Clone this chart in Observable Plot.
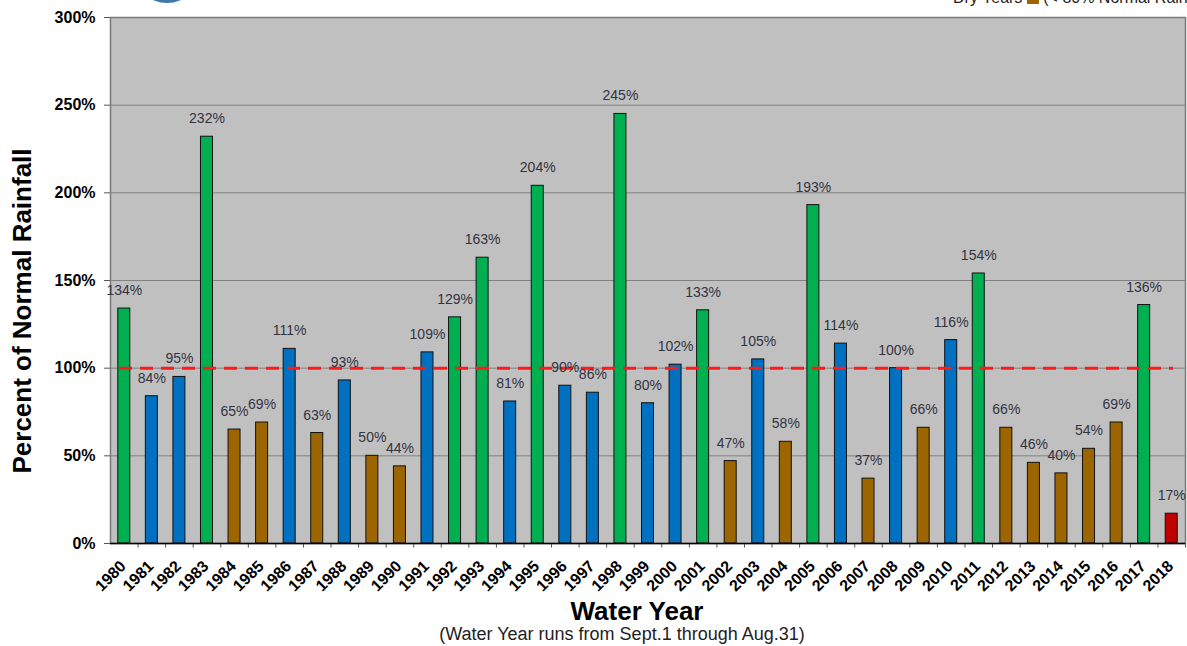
<!DOCTYPE html>
<html>
<head>
<meta charset="utf-8">
<script src="https://cdn.jsdelivr.net/npm/d3@7"></script>
<script src="https://cdn.jsdelivr.net/npm/@observablehq/plot@0.6"></script>
<style>
  body { margin: 0; background: #fff; font-family: "Liberation Sans", Arial, sans-serif; }
  #wrap { position: relative; width: 1187px; height: 646px; overflow: hidden; }
  .abs { position: absolute; white-space: nowrap; }
</style>
</head>
<body>
<div id="wrap">
  <div id="chart"></div>
  <div class="abs" style="left:150px; top:-12px; width:34px; height:15px; border-radius:50%; background:#3f78ab;"></div>
  <div class="abs" style="left:953px; top:-11px; font-size:16px; color:#222;">Dry Years <span style="display:inline-block;width:12px;height:12px;background:#9c6500;vertical-align:-1px;"></span> (&lt; 80% Normal Rain)</div>
  <div class="abs" style="left:537px; top:596px; width:200px; text-align:center; font-size:26px; font-weight:bold; color:#000;">Water Year</div>
  <div class="abs" style="left:422px; top:624px; width:400px; text-align:center; font-size:18px; color:#222;">(Water Year runs from Sept.1 through Aug.31)</div>
  <div class="abs" style="left:22px; top:311px; transform:translate(-50%,-50%) rotate(-90deg); font-size:26px; font-weight:bold; color:#000;">Percent of Normal Rainfall</div>
</div>
<script>
const years = ["1980","1981","1982","1983","1984","1985","1986","1987","1988","1989","1990","1991","1992","1993","1994","1995","1996","1997","1998","1999","2000","2001","2002","2003","2004","2005","2006","2007","2008","2009","2010","2011","2012","2013","2014","2015","2016","2017","2018"];
const percents = [134,84,95,232,65,69,111,63,93,50,44,109,129,163,81,204,90,86,245,80,102,133,47,105,58,193,114,37,100,66,116,154,66,46,40,54,69,136,17];
const classes = ["wet","normal","normal","wet","dry","dry","normal","dry","normal","dry","dry","normal","wet","wet","normal","wet","normal","normal","wet","normal","normal","wet","dry","normal","dry","wet","normal","dry","normal","dry","normal","wet","dry","dry","dry","dry","dry","wet","current"];
const yTicks = [0,50,100,150,200,250,300];
const normalLine = [100];

const classColor = {wet:"#00b050", normal:"#0070c0", dry:"#9c6500", current:"#c00000"};
const data = years.map((y,i)=>({year:y, value:percents[i], cls:classes[i]}));

const W = 1187, H = 600;
const mL = 110, mR = 2;
const step = (W - mL - mR) / years.length;
const barW = 12;
const inset = (step - barW) / 2;

const chart = Plot.plot({
  width: W, height: H,
  marginLeft: mL, marginRight: mR, marginTop: 17, marginBottom: 57,
  style: {fontFamily: "Liberation Sans, Arial, sans-serif", background: "transparent", overflow: "visible"},
  x: {domain: years, padding: 0, round: false, label: null},
  y: {domain: [0,300], label: null},
  marks: [
    Plot.frame({fill: "#c0c0c0", stroke: "#7a7a7a", strokeWidth: 1.5}),
    Plot.gridY(yTicks.slice(1,-1), {stroke: "#808080", strokeOpacity: 1, strokeWidth: 1}),
    Plot.axisY(yTicks, {tickFormat: d => d + "%", fontSize: 16, fontWeight: "bold", tickSize: 6, tickPadding: 9, stroke: "#555", fill: "#000"}),
    Plot.axisX({tickRotate: -45, fontSize: 16, fontWeight: "bold", tickSize: 0, tickPadding: 20, dx: -1, fill: "#000"}),
    Plot.ruleX(years, {x: d => d, y1: 0, y2: -2.6, dx: step/2, stroke: "#555"}),
    Plot.barY(data, {x: "year", y: "value", insetLeft: inset, insetRight: inset, fill: d => classColor[d.cls], stroke: "#111", strokeWidth: 1}),
    Plot.ruleY(normalLine, {stroke: "#ff1a1a", strokeWidth: 3, strokeDasharray: "13,8", insetLeft: 9, insetRight: 12}),
    Plot.text(data, {x: "year", y: "value", text: d => d.value + "%", dy: -18, fontSize: 14, fill: "#333340"}),
    Plot.ruleX([0], {frameAnchor: "left", stroke: "#000", strokeWidth: 1.5}),
    Plot.ruleY([0], {stroke: "#000", strokeWidth: 1.5})
  ]
});
document.getElementById("chart").appendChild(chart);
</script>
</body>
</html>
